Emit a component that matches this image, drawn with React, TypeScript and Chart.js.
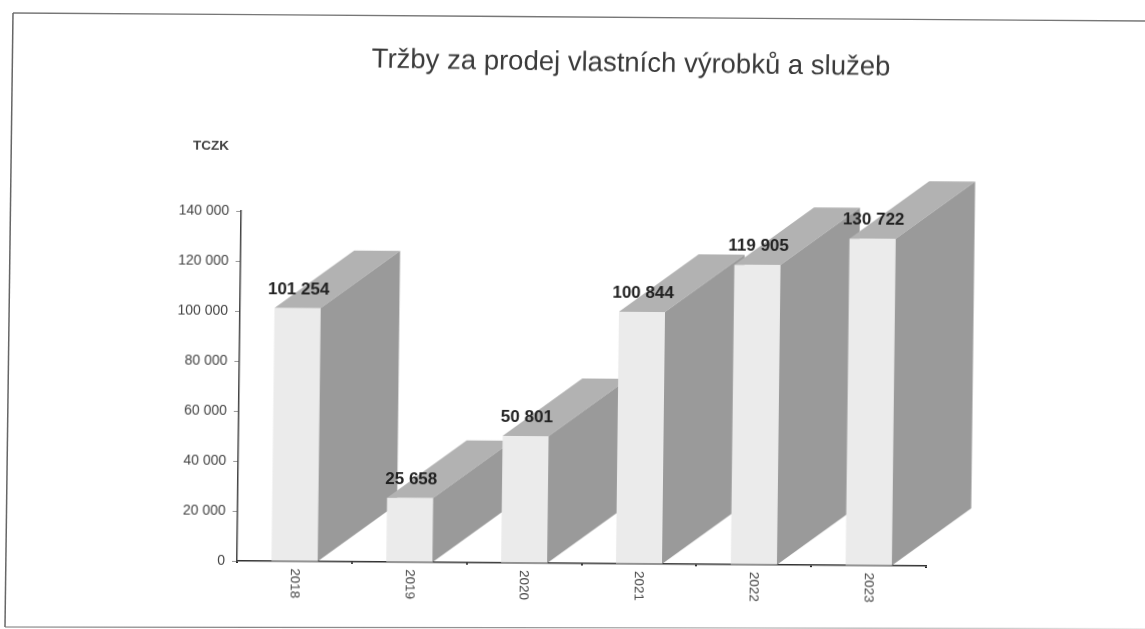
import React, { useEffect, useRef } from "react";
import { Chart, registerables } from "chart.js";

Chart.register(...registerables);

const years = ["2018", "2019", "2020", "2021", "2022", "2023"];
const sales = [101254, 25658, 50801, 100844, 119905, 130722];
const yTicks = [0, 20000, 40000, 60000, 80000, 100000, 120000, 140000];
const titleText = "Tržby za prodej vlastních výrobků a služeb";
const unitText = "TCZK";

const fmt = (v: number) => String(v).replace(/\B(?=(\d{3})+(?!\d))/g, " ");
const FONT = '"Liberation Sans", Arial, sans-serif';
const DX = 79;
const DY = -58;

const depthPlugin = {
  id: "depth",
  beforeDatasetsDraw(chart: any) {
    const { ctx } = chart;
    const bars = chart.getDatasetMeta(0).data;
    const base = chart.scales.y.getPixelForValue(0);
    bars.forEach((b: any) => {
      const half = b.width / 2;
      const l = b.x - half;
      const r = b.x + half;
      const t = b.y;
      ctx.fillStyle = "#b2b2b2";
      ctx.beginPath();
      ctx.moveTo(l, t);
      ctx.lineTo(l + DX, t + DY);
      ctx.lineTo(r + DX, t + DY);
      ctx.lineTo(r, t);
      ctx.closePath();
      ctx.fill();
      ctx.fillStyle = "#9a9a9a";
      ctx.beginPath();
      ctx.moveTo(r, t);
      ctx.lineTo(r + DX, t + DY);
      ctx.lineTo(r + DX, base + DY);
      ctx.lineTo(r, base);
      ctx.closePath();
      ctx.fill();
    });
  },
  afterDatasetsDraw(chart: any) {
    const { ctx } = chart;
    const bars = chart.getDatasetMeta(0).data;
    ctx.save();
    ctx.fillStyle = "#222";
    ctx.font = `bold 17px ${FONT}`;
    ctx.textAlign = "center";
    ctx.textBaseline = "middle";
    bars.forEach((b: any, i: number) => {
      ctx.fillText(fmt(sales[i]), b.x + 1, b.y - 19);
    });
    ctx.fillStyle = "#444";
    ctx.font = `13.5px ${FONT}`;
    ctx.textAlign = "left";
    const baseY = chart.scales.y.getPixelForValue(0);
    years.forEach((y, i) => {
      const x = chart.scales.x.getPixelForValue(i);
      ctx.save();
      ctx.translate(x, baseY + 7);
      ctx.rotate(Math.PI / 2);
      ctx.fillText(y, 0, 0);
      ctx.restore();
    });
    ctx.fillStyle = "#3a3a3a";
    ctx.font = `27.5px ${FONT}`;
    ctx.textAlign = "center";
    ctx.save();
    ctx.translate(625, 61);
    ctx.rotate((0.45 * Math.PI) / 180);
    ctx.fillText(titleText, 0, 0);
    ctx.restore();
    ctx.font = `bold 13.5px ${FONT}`;
    ctx.fillStyle = "#444";
    ctx.fillText(unitText, 206, 146);
    ctx.restore();
  },
};

export default function App() {
  const ref = useRef<HTMLCanvasElement>(null);
  useEffect(() => {
    const chart = new Chart(ref.current!, {
      type: "bar",
      data: {
        labels: years,
        datasets: [
          {
            data: sales,
            backgroundColor: "#ebebeb",
            barPercentage: 0.4,
            categoryPercentage: 1,
          },
        ],
      },
      options: {
        responsive: false,
        animation: false,
        layout: { padding: { left: 0, right: 219, top: 211, bottom: 66 } },
        plugins: { legend: { display: false }, title: { display: false }, tooltip: { enabled: false } },
        scales: {
          x: {
            grid: { drawOnChartArea: false, drawTicks: true, tickLength: 2, color: "#222", lineWidth: 2 },
            border: { color: "#333", width: 1.5 },
            ticks: { display: false },
          },
          y: {
            min: 0,
            max: 140000,
            afterBuildTicks(scale: any) {
              scale.ticks = yTicks.map((value) => ({ value }));
            },
            afterFit(scale: any) {
              scale.width = 237;
            },
            grid: { drawOnChartArea: false, drawTicks: true, tickLength: 5, color: "#999" },
            border: { color: "#444", width: 1.5 },
            ticks: {
              color: "#444",
              padding: 7,
              font: { family: FONT, size: 14 },
              callback: (v: any) => fmt(Number(v)),
            },
          },
        },
      },
      plugins: [depthPlugin],
    } as any);
    return () => chart.destroy();
  }, []);
  return (
    <div style={{ position: "fixed", inset: 0, background: "#fff", overflow: "hidden" }}>
      <svg width={1145} height={629} style={{ position: "absolute", left: 0, top: 0 }}>
        <defs>
          <linearGradient id="fade" gradientUnits="userSpaceOnUse" x1="0" y1="0" x2="1145" y2="0">
            <stop offset="0" stopColor="#777" />
            <stop offset="0.75" stopColor="#aaa" />
            <stop offset="1" stopColor="#eee" />
          </linearGradient>
        </defs>
        <polyline points="1145,21 13,13" fill="none" stroke="#777" strokeWidth={1.3} />
        <polyline points="13,13 5,627" fill="none" stroke="#666" strokeWidth={1.5} />
        <polyline points="5,627 1145,628.5" fill="none" stroke="url(#fade)" strokeWidth={1.2} />
      </svg>
      <canvas
        ref={ref}
        width={1145}
        height={629}
        style={{
          position: "absolute",
          left: 0,
          top: 0,
          transformOrigin: "237px 562px",
          transform: "matrix(1, 0.0073, -0.012, 1, 0, 0)",
          filter: "blur(0.6px)",
        }}
      />
    </div>
  );
}
